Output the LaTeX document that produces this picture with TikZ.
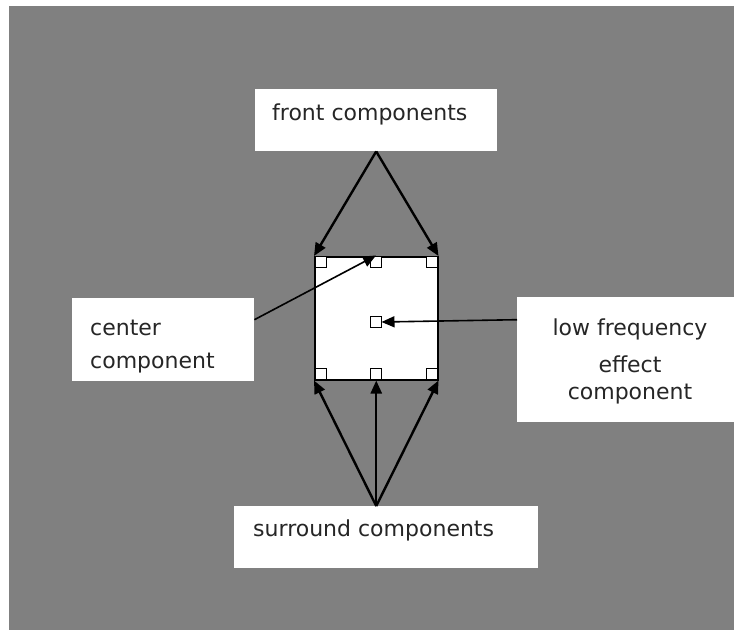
\documentclass[tikz,border=0pt]{standalone}
\usepackage{fontspec}
\setmainfont{DejaVu Sans}
\usetikzlibrary{arrows.meta}
\definecolor{bggray}{HTML}{808080}
\tikzset{
  labelbox/.style={fill=white, draw=none, inner sep=0pt, anchor=north west},
  labeltext/.style={inner sep=0pt, font=\fontsize{22}{26}\selectfont, text=black!85},
  smallsq/.style={draw=black, fill=white, line width=1pt, minimum size=11pt, inner sep=0pt},
  bigsq/.style={draw=black, fill=white, line width=1.5pt, minimum width=123pt, minimum height=123pt, inner sep=0pt, anchor=north west},
  conn/.style={line width=2.4pt, -{Triangle[length=13pt,width=11pt]}},
  thinconn/.style={line width=1.6pt, -{Triangle[length=13pt,width=11pt]}}
}
\begin{document}
\begin{tikzpicture}[x=1pt,y=-1pt]
\useasboundingbox (0,0) rectangle (734,630);
\fill[white] (0,0) rectangle (734,630);
\fill[bggray] (9,6) rectangle (734,630);

% label boxes
\node[labelbox, minimum width=242pt, minimum height=62pt] (front) at (255,89) {};
\node[labelbox, minimum width=304pt, minimum height=62pt] (surround) at (234,506) {};
\node[labelbox, minimum width=182pt, minimum height=83pt] (centerlbl) at (72,298) {};
\node[labelbox, minimum width=217pt, minimum height=125pt] (lfe) at (517,297) {};

% texts
\node[labeltext, anchor=base west] (tfront) at (272,120) {front components};
\node[labeltext, anchor=base west] (tsurround) at (253,536) {surround components};
\node[labeltext, anchor=base west] (tcenter1) at (90,335) {center};
\node[labeltext, anchor=base west] (tcenter2) at (90,368) {component};
\node[labeltext, anchor=base] (tlfe1) at (630,335) {low frequency};
\node[labeltext, anchor=base] (tlfe2) at (630,372) {effect};
\node[labeltext, anchor=base] (tlfe3) at (630,399) {component};

% speaker layout square
\node[bigsq] (square) at (314,256) {};
\node[smallsq] (tl) at (320.5,261.5) {};
\node[smallsq] (tm) at (376,261.5) {};
\node[smallsq] (tr) at (431.5,261.5) {};
\node[smallsq] (cs) at (375.5,322) {};
\node[smallsq] (bl) at (320.5,373.5) {};
\node[smallsq] (bm) at (376,373.5) {};
\node[smallsq] (br) at (431.5,373.5) {};

% connectors
\draw[conn] (front.south) -- (square.north west);
\draw[conn] (front.south) -- (square.north east);
\coordinate (sstart) at (square.south |- surround.north);
\draw[conn] (sstart) -- (square.south west);
\draw[conn] (sstart) -- (square.south);
\draw[conn] (sstart) -- (square.south east);
\draw[thinconn] ([yshift=20pt]centerlbl.east) -- (tm.north);
\draw[thinconn] ([yshift=40pt]lfe.west) -- (cs.east);
\end{tikzpicture}
\end{document}
